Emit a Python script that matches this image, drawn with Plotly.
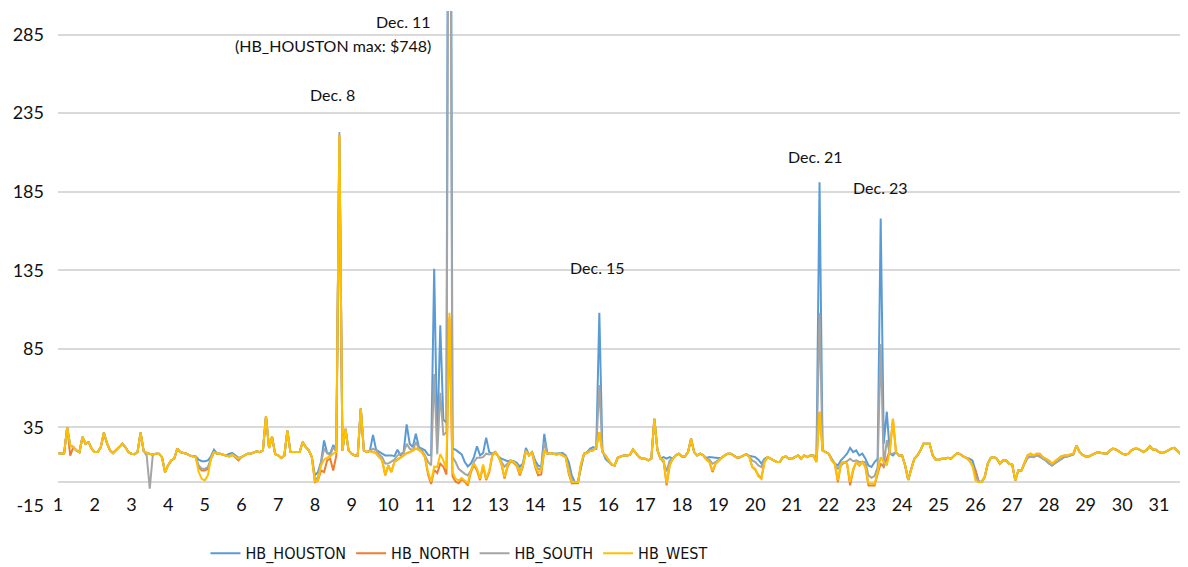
import plotly.graph_objects as go

# Day-of-month tick labels
day_labels = [str(d) for d in range(1, 32)]

# Prices ($/MWh) sampled every 2 hours (12 values per day), Dec 1 .. Dec 31
hb_west = [
    18.7, 18.3, 18.5, 35, 23.6, 22.5, 20.4, 19.3, 28.9, 24.6, 25.7, 21.5,
    19.3, 19.3, 22.5, 31.6, 25, 20.4, 18.7, 20.4, 22.5, 24.6, 22.5, 19.3,
    18.3, 18, 19.3, 31.6, 20, 18.7, 18.3, 17.6, 18.3, 18.3, 16.1, 6.5,
    11, 14, 15.1, 21.5, 19.3, 18.7, 18.3, 17.2, 16.7, 16.1, 6.6, 2.3,
    1.3, 4.5, 15.1, 19.3, 18.3, 18.3, 17.6, 17.2, 16.5, 17.6, 16.1, 15.1,
    16.1, 17.2, 18.3, 18.3, 19.3, 19.8, 19.3, 20.4, 42, 22, 29, 18,
    17.2, 15.5, 17, 33, 19.3, 19.3, 19.3, 19.3, 25.7, 22.5, 20.4, 16.1,
    0.8, 1.3, 10.8, 14.5, 15.7, 16.5, 18.3, 19.3, 221, 20.4, 34, 20.4,
    18.3, 17.2, 17.2, 47, 20.4, 19.3, 20, 19.3, 18.7, 16.1, 14, 5,
    10.8, 6.6, 13, 14.5, 15.7, 17.2, 18.7, 19.3, 20.4, 21.5, 20.8, 19.3,
    16.1, 6.6, 0.5, 10, 9.8, 18, 14, 8.7, 108, 6.6, 2.3, 1.3,
    2.8, 1.3, -0.5, 7.6, 12, 8.7, 2.3, 11.4, 2.3, 7.6, 17.2, 19.3,
    16.5, 12, 3.4, 10.8, 14, 13, 11, 5.5, 10.8, 20, 17.2, 19.3,
    10.8, 6.6, 7.6, 20.4, 18.3, 18.7, 18.3, 17.6, 18.3, 17.2, 16.1, 6.6,
    0.2, 0.2, 0.2, 11.9, 18.3, 18.7, 20, 20.4, 22.5, 32, 19.3, 17.2,
    14, 11.4, 10.8, 15.7, 16.5, 17.2, 17.2, 17.6, 21, 18.7, 16.1, 15.1,
    15.1, 14, 15.1, 40.5, 20.4, 15.1, 14, -0.5, 10.8, 15.1, 17.2, 18.3,
    16.5, 16.5, 19.3, 27.8, 19.3, 17.2, 18.3, 17.2, 14.5, 13, 7.6, 11.9,
    14, 15.7, 17.2, 18.3, 18.3, 17.2, 15.7, 16, 17, 18, 16.5, 9.8,
    8.7, 3.9, 2.3, 13, 16.1, 15.1, 14, 13, 13, 16.1, 16.5, 15.1,
    15.1, 16.1, 17.2, 15.1, 17.2, 16.1, 17.2, 17.2, 13, 45, 20.4, 19.3,
    18.3, 14, 11.9, 1.3, 11.9, 13, 11.9, 0.2, 8.7, 13, 10.8, 13,
    9.8, -0.5, -0.9, -0.9, 6.6, 16, 13, 10.8, 20.4, 40.5, 19.3, 17.2,
    17.2, 10.8, 1.6, 8.7, 15.1, 17.2, 20.4, 24.6, 24.6, 24.6, 17.2, 14.5,
    14.5, 15.1, 15.1, 15.7, 15.1, 17.2, 18.7, 18, 16.5, 15.7, 14, 10.8,
    1.3, 0.2, 0.2, 3.4, 11.9, 15.7, 16.1, 15.1, 11.9, 14, 14, 11.9,
    11.4, 1.3, 7.6, 7.6, 13, 17.2, 18.3, 17.2, 18.3, 18.3, 16.1, 15.1,
    14, 11.9, 13.6, 15.1, 16.5, 17.2, 17.2, 17.8, 18.3, 23.5, 19.5, 17.5,
    16.5, 16.5, 17.6, 18.7, 19.3, 18.7, 18.3, 18.3, 20.4, 21.5, 20.8, 19.3,
    18.3, 17.6, 18.3, 20.4, 21.5, 21.5, 20.4, 19.3, 20.8, 23, 20.8, 20.8,
    19.3, 18.7, 19.3, 20.4, 21.5, 22, 20.4, 18.3, 19.3, 20.8, 20.4, 19.3,
]

hb_houston = [
    18.7, 18.3, 18.5, 35, 23.6, 22.5, 20.4, 19.3, 28.9, 24.6, 25.7, 21.5,
    19.3, 19.3, 22.5, 31.6, 25, 20.4, 18.7, 20.4, 22.5, 24.6, 22.5, 19.3,
    18.3, 18, 19.3, 31.6, 20, 18.7, 18.3, 17.6, 18.3, 18.3, 16.1, 6.5,
    11, 14, 15.1, 21.5, 19.3, 18.7, 18.3, 17.2, 16.7, 16.7, 14.5, 13.5,
    13.5, 14, 16.5, 20.8, 18.3, 18.3, 17.6, 17.2, 18.3, 18.7, 17.2, 15.7,
    16.1, 17.2, 18.3, 18.3, 19.3, 19.8, 19.3, 20.4, 42, 22, 29, 18,
    17.2, 15.5, 17, 33, 19.3, 19.3, 19.3, 19.3, 25.7, 22.5, 20.4, 16.1,
    4.5, 6.6, 13, 26.7, 18.7, 18.3, 23.8, 20.4, 218, 20.4, 34, 20.4,
    18.3, 17.2, 17.2, 47, 20.4, 19.3, 20.4, 30.2, 20.8, 19.3, 18.3, 17.2,
    17.2, 17.2, 16.7, 20.8, 17.2, 19.3, 37, 24.6, 22.5, 31, 22.5, 21.5,
    20.4, 17.5, 17.2, 136, 25, 100, 40, 38, 748, 21.5, 20.8, 19.3,
    17.8, 13, 10.2, 12, 16.1, 23, 17.2, 18.7, 28.5, 19.3, 18.3, 19.3,
    16.5, 15.1, 14.5, 13.5, 14, 13.5, 12.5, 10, 12, 22, 17.5, 19.3,
    14, 10.8, 9.8, 30.9, 18.3, 18.7, 18.3, 18.3, 18.7, 18.7, 17.2, 13,
    4.5, 0.2, 0.2, 8.7, 18.3, 19.3, 21.5, 22.5, 21.5, 108, 20.4, 15,
    13, 11.4, 10.8, 15.7, 16.5, 17.2, 17.2, 17.6, 21, 18.7, 16.1, 15.1,
    15.1, 14, 15.1, 40.5, 20.4, 15.1, 16.1, 15.1, 16.1, 15.1, 17.2, 18.3,
    16.5, 16.5, 19.3, 27.8, 19.3, 17.2, 18.3, 17.2, 15.5, 16.1, 15.7, 15.7,
    15.5, 15.7, 17.2, 18.3, 18.3, 17.2, 15.7, 16, 17, 18, 17, 16.5,
    16.1, 14.5, 12, 15.1, 16.1, 15.1, 14, 13, 13, 16.1, 16.5, 15.1,
    15.1, 16.1, 17.2, 15.1, 17.2, 16.1, 17.2, 17.2, 15, 191, 20.4, 19.3,
    18.3, 15.1, 11.9, 10.8, 14, 16.1, 18.3, 22, 19.3, 20.4, 17.2, 18.3,
    15.1, 10.8, 9.8, 13, 15.1, 168, 24.6, 45, 18.3, 17.2, 19.3, 17.2,
    17.2, 10.8, 1.6, 8.7, 15.1, 17.2, 20.4, 24.6, 24.6, 24.6, 17.2, 14.5,
    14.5, 15.1, 15.1, 15.7, 15.1, 17.2, 18.7, 18, 16.5, 15.7, 15.1, 14,
    7.6, 1, 0.2, 3.4, 11.9, 15.7, 16.1, 15.1, 11.9, 14, 14, 11.9,
    11.4, 1.3, 7.6, 7.6, 12, 15.7, 16.5, 16.1, 17.2, 16.5, 15.1, 14,
    12, 10.8, 12.2, 13.6, 15.1, 16.1, 16.5, 17.2, 17.8, 23.5, 19.5, 17.5,
    16.5, 16.5, 17.6, 18.7, 19.3, 18.7, 18.3, 18.3, 20.4, 21.5, 20.8, 19.3,
    18.3, 17.6, 18.3, 20.4, 21.5, 21.5, 20.4, 19.3, 20.8, 23, 20.8, 20.8,
    19.3, 18.7, 19.3, 20.4, 21.5, 22, 20.4, 18.3, 19.3, 20.8, 20.4, 19.3,
]

hb_south = [
    18.7, 18.3, 18.5, 35, 23.6, 22.5, 20.4, 19.3, 28.9, 24.6, 25.7, 21.5,
    19.3, 19.3, 22.5, 31.6, 25, 20.4, 18.7, 20.4, 22.5, 24.6, 22.5, 19.3,
    18.3, 18, 19.3, 31.6, 20, 17, -4, 17.6, 18.3, 18.3, 16.1, 6.5,
    11, 14, 15.1, 21.5, 19.3, 18.7, 18.3, 17.2, 16.7, 16.1, 10.8, 8.7,
    8.7, 9.8, 15, 19.3, 18.3, 18.3, 17.6, 17.2, 16.5, 17.6, 16.1, 15.1,
    16.1, 17.2, 18.3, 18.3, 19.3, 19.8, 19.3, 20.4, 42, 22, 29, 18,
    17.2, 15.5, 17, 33, 19.3, 19.3, 19.3, 19.3, 25.7, 22.5, 20.4, 16.1,
    1.3, 3.4, 12, 21.5, 18.7, 17.2, 22.5, 19.3, 223, 20.4, 34, 20.4,
    18.3, 17.2, 17.2, 47, 20.4, 19.3, 20, 21.5, 20.4, 17.8, 16.1, 12,
    12, 13, 14.5, 17.2, 18.3, 18.7, 24.6, 21.5, 20.4, 25.7, 21.5, 20.4,
    17.2, 13, 10.8, 69, 18, 57, 30, 32, 560, 16.1, 13, 8.7,
    7, 5.5, 4.5, 7.6, 13, 15.7, 15.7, 16.1, 18.3, 17.8, 18.3, 19.3,
    16.5, 13.5, 10, 12, 14, 13, 11.5, 7, 11, 20.4, 17.2, 19.3,
    12, 8.5, 8.5, 25.7, 18.3, 18.7, 18.3, 18, 18.3, 18, 16.5, 9,
    1.5, 0.2, 0.2, 10, 18.3, 19, 20.5, 21, 22, 62, 19.8, 16,
    13.5, 11.4, 10.8, 15.7, 16.5, 17.2, 17.2, 17.6, 21, 18.7, 16.1, 15.1,
    15.1, 14, 15.1, 40.5, 20.4, 15.1, 13, 7, 14, 15.1, 17.2, 18.3,
    16.5, 16.5, 19.3, 27.8, 19.3, 17.2, 18.3, 17.2, 15, 14.5, 11.9, 13,
    14.5, 15.7, 17.2, 18.3, 18.3, 17.2, 15.7, 16, 17, 18, 16.5, 14,
    13, 10.8, 9.8, 14.5, 16.1, 15.1, 14, 13, 13, 16.1, 16.5, 15.1,
    15.1, 16.1, 17.2, 15.1, 17.2, 16.1, 17.2, 17.2, 14, 108, 20.4, 19.3,
    18.3, 14.5, 11.9, 8.7, 10.8, 12.5, 13.5, 15.1, 13.5, 14, 13, 13,
    13, 4.5, 3, 4, 9.8, 88, 9.8, 27, 18.3, 18.3, 19.3, 17.2,
    17.2, 10.8, 1.6, 8.7, 15.1, 17.2, 20.4, 24.6, 24.6, 24.6, 17.2, 14.5,
    14.5, 15.1, 15.1, 15.7, 15.1, 17.2, 18.7, 18, 16.5, 15.7, 14, 10.8,
    4.5, 0.2, 0.2, 3.4, 11.9, 15.7, 16.1, 15.1, 11.9, 14, 14, 11.9,
    11.4, 1.3, 7.6, 7.6, 12, 15.7, 16.5, 16.1, 17.2, 16.5, 15.1, 14,
    12, 10.8, 12.2, 13.6, 15.1, 16.1, 16.5, 17.2, 17.8, 23.5, 19.5, 17.5,
    16.5, 16.5, 17.6, 18.7, 19.3, 18.7, 18.3, 18.3, 20.4, 21.5, 20.8, 19.3,
    18.3, 17.6, 18.3, 20.4, 21.5, 21.5, 20.4, 19.3, 20.8, 23, 20.8, 20.8,
    19.3, 18.7, 19.3, 20.4, 21.5, 22, 20.4, 18.3, 19.3, 20.8, 20.4, 19.3,
]

hb_north = [
    18.7, 18.3, 18.5, 35, 17, 22.5, 20.4, 19.3, 28.9, 24.6, 25.7, 21.5,
    19.3, 19.3, 22.5, 31.6, 25, 20.4, 18.7, 20.4, 22.5, 24.6, 22.5, 19.3,
    18.3, 18, 19.3, 31.6, 20, 18.7, 18.3, 17.6, 18.3, 18.3, 16.1, 6.5,
    11, 14, 15.1, 21.5, 19.3, 18.7, 18.3, 17.2, 16.7, 16.1, 9.8, 7.6,
    7.6, 8.7, 15, 19.3, 18.3, 18.3, 17.6, 17.2, 16.5, 17.6, 16.1, 14,
    16.1, 17.2, 18.3, 18.3, 19.3, 19.8, 19.3, 20.4, 42, 22, 29, 18,
    17.2, 15.5, 17, 33, 19.3, 19.3, 19.3, 19.3, 25.7, 22.5, 20.4, 16.1,
    0.2, 1.3, 7.6, 6.6, 14, 15.1, 7.6, 17.2, 221, 20.4, 34, 20.4,
    18.3, 17.2, 17.2, 47, 20.4, 19.3, 20, 19.3, 18.7, 16.1, 14, 4.5,
    10.8, 6.6, 13, 14.5, 15.7, 17.2, 18.7, 19.3, 20.4, 21.5, 20.8, 19.3,
    16, 5, -1, 8, 6, 12, 10, 5, 105, 4, 0.5, -0.5,
    2, 0.5, -1.9, 6.5, 11, 7.5, 1.5, 10.5, 1.5, 6.5, 17, 19.3,
    16.5, 11.5, 2.5, 10, 13.5, 12.5, 10.5, 4.5, 10, 20, 17.2, 19.3,
    10, 4.5, 5, 20.4, 18.3, 18.7, 18.3, 17.6, 18.3, 17.2, 16.1, 5.5,
    -0.5, -0.5, -0.5, 11.5, 18.3, 18.7, 20, 20.4, 22.5, 32, 19.3, 17.2,
    14, 11.4, 10.8, 15.7, 16.5, 17.2, 17.2, 17.6, 21, 18.7, 16.1, 15.1,
    15.1, 14, 15.1, 40.5, 20.4, 15.1, 14, -1.9, 10.8, 15.1, 17.2, 18.3,
    16.5, 16.5, 19.3, 27.8, 19.3, 17.2, 18.3, 17.2, 14.5, 13, 6.6, 11.9,
    14, 15.7, 17.2, 18.3, 18.3, 17.2, 15.7, 16, 17, 18, 16.5, 9.8,
    8, 4.5, 3, 13, 16.1, 15.1, 14, 13, 13, 16.1, 16.5, 15.1,
    15.1, 16.1, 17.2, 15.1, 17.2, 16.1, 17.2, 17.2, 13, 45, 20.4, 19.3,
    18.3, 14, 11.9, 0.2, 11.9, 13, 11.9, -1.9, 7.6, 13, 10.8, 13,
    9.8, -1.9, -1.9, -1.9, 5.5, 12, 9.8, 15, 20.4, 40.5, 19.3, 17.2,
    17.2, 10.8, 1.6, 8.7, 15.1, 17.2, 20.4, 24.6, 24.6, 24.6, 17.2, 14.5,
    14.5, 15.1, 15.1, 15.7, 15.1, 17.2, 18.7, 18, 16.5, 15.7, 14, 10.8,
    7.6, 0.2, 0.2, 3.4, 11.9, 15.7, 16.1, 15.1, 11.9, 14, 14, 11.9,
    11.4, 1.3, 7.6, 7.6, 13, 17.2, 18.3, 17.2, 18.3, 18.3, 16.1, 15.1,
    14, 11.9, 13.6, 15.1, 16.5, 17.2, 17.2, 17.8, 18.3, 23.5, 19.5, 17.5,
    16.5, 16.5, 17.6, 18.7, 19.3, 18.7, 18.3, 18.3, 20.4, 21.5, 20.8, 19.3,
    18.3, 17.6, 18.3, 20.4, 21.5, 21.5, 20.4, 19.3, 20.8, 23, 20.8, 20.8,
    19.3, 18.7, 19.3, 20.4, 21.5, 22, 20.4, 18.3, 19.3, 20.8, 20.4, 19.3,
]

series_names = ["HB_HOUSTON", "HB_NORTH", "HB_SOUTH", "HB_WEST"]
series_colors = ["#5B9BD5", "#ED7D31", "#A5A5A5", "#FFC000"]
y_ticks = [-15, 35, 85, 135, 185, 235, 285]

# time axis: day of month + 2-hour steps
x_time = [1 + i / 12 for i in range(len(hb_west))]

fig = go.Figure()
for name, vals, col in zip(series_names, [hb_houston, hb_north, hb_south, hb_west], series_colors):
    fig.add_trace(go.Scatter(x=x_time, y=vals, mode="lines", name=name,
                             line=dict(color=col, width=2)))

FONT = "Lato, 'Open Sans', sans-serif"
ann_font = dict(family=FONT, size=16, color="#111111")
annots = [
    dict(x=11.218, y=293.6, text="Dec. 11", xanchor="right"),
    dict(x=11.218, y=278.3, text="(HB_HOUSTON max: $748)", xanchor="right"),
    dict(x=8.493, y=247.1, text="Dec. 8", xanchor="center"),
    dict(x=15.71, y=136.9, text="Dec. 15", xanchor="center"),
    dict(x=21.63, y=207.6, text="Dec. 21", xanchor="center"),
    dict(x=23.40, y=187.9, text="Dec. 23", xanchor="center"),
]
for a in annots:
    fig.add_annotation(x=a["x"], y=a["y"], xref="x", yref="y", text=a["text"],
                       xanchor=a["xanchor"], yanchor="middle", showarrow=False,
                       font=ann_font)

# page body has an 8px default margin, so margins are offset to compensate
fig.update_layout(
    width=1188, height=567,
    margin=dict(l=50, r=8, t=3, b=69.3, autoexpand=False),
    paper_bgcolor="white", plot_bgcolor="white",
    font=dict(family=FONT, color="#111111"),
    showlegend=True,
    legend=dict(orientation="h", x=0.1305, xanchor="left", y=-0.0956, yanchor="middle",
                font=dict(family="'Liberation Sans Narrow', 'DejaVu Sans Condensed', sans-serif", size=16, color="#111111"),
                itemwidth=30, bgcolor="rgba(0,0,0,0)"),
    xaxis=dict(range=[1, 31.79], tickvals=list(range(1, 32)), ticktext=day_labels,
               showgrid=False, zeroline=False, showline=False, ticks="",
               anchor="free", position=0.0277, automargin=False,
               tickfont=dict(family=FONT, size=18, color="#111111")),
    yaxis=dict(range=[-15, 300], tickvals=y_ticks, ticktext=[str(v) for v in y_ticks],
               showgrid=True, gridcolor="#D9D9D9", gridwidth=2,
               zeroline=True, zerolinecolor="#D9D9D9", zerolinewidth=2,
               showline=False, ticks="", ticklabelstandoff=13, automargin=False,
               tickfont=dict(family=FONT, size=18, color="#111111")),
)

fig.write_html("out.html")
